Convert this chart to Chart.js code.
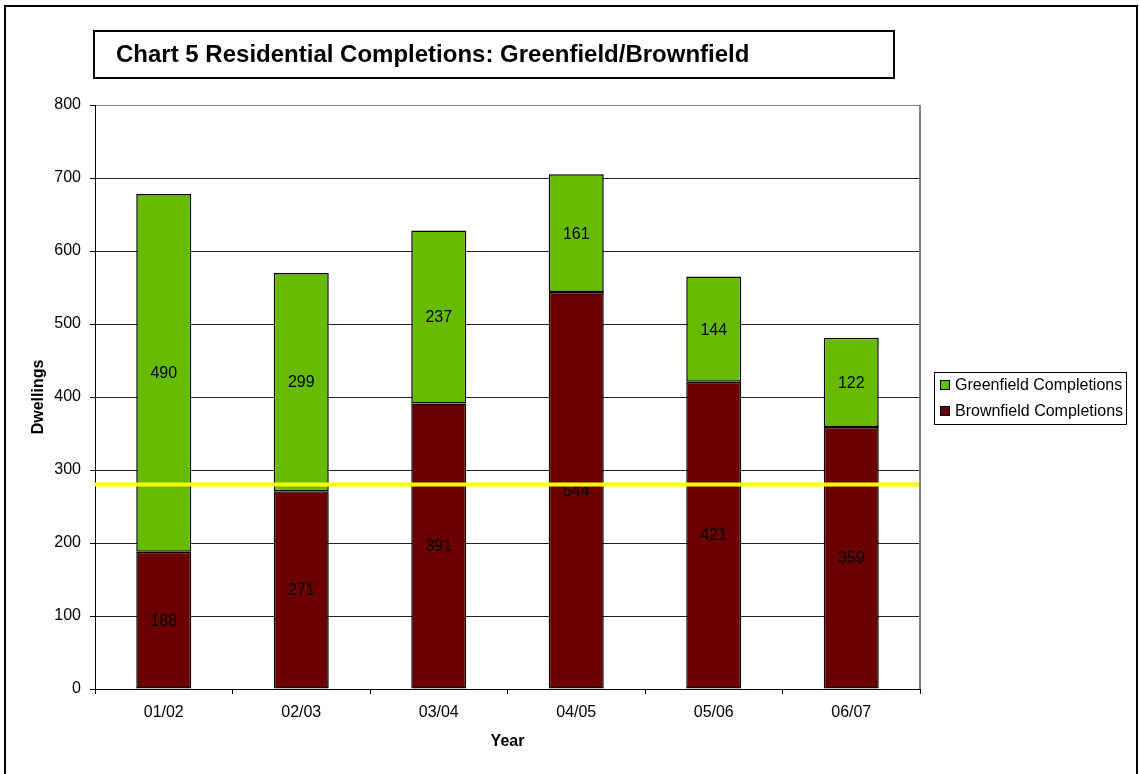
<!DOCTYPE html>
<html>
<head>
<meta charset="utf-8">
<title>Chart 5 Residential Completions: Greenfield/Brownfield</title>
<script src="https://cdn.jsdelivr.net/npm/chart.js@4/dist/chart.umd.min.js"></script>
<style>
  html, body { margin: 0; padding: 0; background: #ffffff; }
  canvas { display: block; }
</style>
</head>
<body>
<canvas id="chart" width="1139" height="774"></canvas>
<script>
// Financial years and completions per year
const years = ['01/02', '02/03', '03/04', '04/05', '05/06', '06/07'];
const brownfield = [188, 271, 391, 544, 421, 359];
const greenfield = [490, 299, 237, 161, 144, 122];
// Brownfield reference level shown as the yellow line
const brownfieldTarget = 280;
const yTicks = [0, 100, 200, 300, 400, 500, 600, 700, 800];

const GREEN = '#66bb00';
const BROWN = '#6b0000';
const FONT = "'Liberation Sans', Arial, sans-serif";

Chart.defaults.font.family = FONT;
Chart.defaults.font.size = 16;
Chart.defaults.color = '#000000';

// Frame, title box and legend box drawn on the canvas
const decorations = {
  id: 'decorations',
  beforeDraw(chart) {
    const ctx = chart.ctx;
    ctx.save();
    ctx.fillStyle = '#ffffff';
    ctx.fillRect(0, 0, chart.width, chart.height);

    // outer frame
    ctx.strokeStyle = '#000000';
    ctx.lineWidth = 2;
    ctx.strokeRect(5, 6, 1132, 800);

    // title box
    ctx.strokeRect(94, 31, 800, 47);
    ctx.font = 'bold 24px ' + FONT;
    ctx.fillStyle = '#000000';
    ctx.textBaseline = 'middle';
    ctx.textAlign = 'left';
    ctx.fillText('Chart 5 Residential Completions: Greenfield/Brownfield', 116, 55);

    // legend
    ctx.lineWidth = 1;
    ctx.strokeStyle = '#000000';
    ctx.strokeRect(934.5, 372.5, 192, 52);
    const entries = [
      { label: 'Greenfield Completions', color: GREEN, y: 385 },
      { label: 'Brownfield Completions', color: BROWN, y: 411 }
    ];
    ctx.font = '16px ' + FONT;
    entries.forEach(e => {
      ctx.fillStyle = e.color;
      ctx.fillRect(940, e.y - 5, 10, 10);
      ctx.strokeRect(940.5, e.y - 4.5, 9, 9);
      ctx.fillStyle = '#000000';
      ctx.fillText(e.label, 955, e.y + 1);
    });
    ctx.restore();
  },
  afterDatasetsDraw(chart) {
    const ctx = chart.ctx;
    const area = chart.chartArea;
    ctx.save();

    // value labels centred in each stacked segment
    ctx.font = '16px ' + FONT;
    ctx.fillStyle = '#000000';
    ctx.textAlign = 'center';
    ctx.textBaseline = 'middle';
    chart.data.datasets.forEach((ds, i) => {
      const meta = chart.getDatasetMeta(i);
      meta.data.forEach((bar, j) => {
        const mid = (bar.y + bar.base) / 2;
        ctx.fillText(String(ds.data[j]), bar.x, mid + 1);
      });
    });

    // brownfield target line across the plot
    const y = chart.scales.y.getPixelForValue(brownfieldTarget);
    ctx.strokeStyle = '#ffff00';
    ctx.lineWidth = 4;
    ctx.beginPath();
    ctx.moveTo(area.left, y);
    ctx.lineTo(area.right, y);
    ctx.stroke();

    // grey plot border on the right
    ctx.strokeStyle = '#808080';
    ctx.lineWidth = 2;
    ctx.beginPath();
    ctx.moveTo(area.right, area.top);
    ctx.lineTo(area.right, area.bottom);
    ctx.stroke();
    ctx.restore();
  }
};

new Chart(document.getElementById('chart'), {
  type: 'bar',
  data: {
    labels: years,
    datasets: [
      {
        label: 'Brownfield Completions',
        data: brownfield,
        backgroundColor: BROWN,
        borderColor: '#000000',
        borderWidth: 1.5,
        borderSkipped: false
      },
      {
        label: 'Greenfield Completions',
        data: greenfield,
        backgroundColor: GREEN,
        borderColor: '#000000',
        borderWidth: 1.5,
        borderSkipped: false
      }
    ]
  },
  options: {
    responsive: false,
    animation: false,
    events: [],
    layout: { padding: { top: 105, right: 219, left: 0, bottom: 0 } },
    datasets: { bar: { categoryPercentage: 1.0, barPercentage: 0.4 } },
    plugins: {
      legend: { display: false },
      tooltip: { enabled: false }
    },
    scales: {
      x: {
        stacked: true,
        afterFit(scale) { scale.height = 85; },
        grid: {
          offset: true,
          drawOnChartArea: false,
          drawTicks: true,
          tickLength: 5,
          color: '#000000'
        },
        border: { color: '#000000', width: 1 },
        ticks: { padding: 9, font: { size: 16 }, color: '#000000' },
        title: {
          display: true,
          text: 'Year',
          font: { size: 16, weight: 'bold' },
          padding: { top: 0, bottom: 23 }
        }
      },
      y: {
        stacked: true,
        min: 0,
        max: 800,
        afterFit(scale) { scale.width = 95; },
        afterBuildTicks(scale) { scale.ticks = yTicks.map(v => ({ value: v })); },
        grid: {
          color: ctx => (ctx.tick && ctx.tick.value === 800 ? '#808080' : '#222222'),
          lineWidth: 1,
          drawTicks: true,
          tickLength: 5,
          tickColor: '#000000'
        },
        border: { color: '#000000', width: 1 },
        ticks: { padding: 9, font: { size: 16 }, color: '#000000' },
        title: {
          display: true,
          text: 'Dwellings',
          font: { size: 16, weight: 'bold' },
          padding: { top: 29, bottom: 0 }
        }
      }
    }
  },
  plugins: [decorations]
});
</script>
</body>
</html>
